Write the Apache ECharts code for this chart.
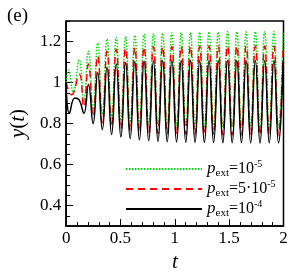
<!DOCTYPE html>
<html><head><meta charset="utf-8">
<script src="https://cdn.jsdelivr.net/npm/echarts@6/dist/echarts.min.js"></script>
<style>html,body{margin:0;padding:0;background:#fff}#c{width:293px;height:278px}</style>
</head><body><div id="c"></div>
<script>
// ---- data ----
const peakT = [0.120,0.205,0.290,0.376,0.461,0.547,0.632,0.717,0.803,0.888,0.973,1.059,1.144,1.229,1.315,1.400,1.485,1.571,1.656,1.741,1.827,1.912,1.997];
const troughT = [0.163,0.248,0.333,0.418,0.504,0.589,0.674,0.760,0.845,0.930,1.016,1.101,1.186,1.272,1.357,1.442,1.528,1.613,1.698,1.784,1.869,1.954];

const greenStartT = [0, 0.022, 0.065];
const greenStartV = [1.0, 1.06, 0.955];
const greenPeaks = [1.110,1.153,1.192,1.212,1.220,1.224,1.230,1.235,1.238,1.240,1.242,1.243,1.244,1.245,1.246,1.246,1.247,1.247,1.247,1.248,1.248,1.248,1.248];
const greenTroughs = [0.910,0.870,0.845,0.828,0.815,0.806,0.800,0.796,0.793,0.791,0.789,0.788,0.787,0.786,0.785,0.785,0.784,0.784,0.784,0.783,0.783,0.783];

const redStartT = [0, 0.05];
const redStartV = [1.0, 0.94];
const redPeaks = [1.040,1.090,1.130,1.152,1.162,1.168,1.171,1.173,1.175,1.176,1.176,1.177,1.177,1.177,1.178,1.178,1.178,1.178,1.178,1.178,1.178,1.178,1.178];
const redTroughs = [0.880,0.835,0.805,0.785,0.772,0.764,0.759,0.755,0.752,0.750,0.749,0.748,0.747,0.746,0.746,0.745,0.745,0.745,0.745,0.745,0.745,0.745];

const blackStartT = [0, 0.03, 0.08];
const blackStartV = [1.0, 0.85, 0.925];
const blackPeaks = [0.915,0.990,1.048,1.075,1.090,1.098,1.102,1.105,1.106,1.107,1.107,1.107,1.107,1.107,1.107,1.107,1.107,1.107,1.107,1.107,1.107,1.107,1.107];
const blackTroughs = [0.850,0.800,0.770,0.747,0.734,0.726,0.720,0.716,0.713,0.711,0.710,0.709,0.708,0.707,0.707,0.706,0.706,0.706,0.705,0.705,0.705,0.705];

const seriesNames = ['g', 'r', 'b'];
const legendExp = ['10', '5\u00b710', '10'];
const legendSup = ['-5', '-5', '-4'];
const xTicks = [0, 0.5, 1, 1.5, 2];
const yTickLabels = [0.4, 0.6, 0.8, 1, 1.2];

function build(st, sv, pk, tr) {
  const pts = st.map((t, i) => [t, sv[i]]);
  pk.forEach((v, i) => pts.push([peakT[i], v]));
  tr.forEach((v, i) => pts.push([troughT[i], v]));
  pts.sort((a, b) => a[0] - b[0]);
  return pts;
}

const SERIF = 'Liberation Serif';
const chart = echarts.init(document.getElementById('c'), null, {renderer: 'canvas'});

const baseSeries = {type: 'line', showSymbol: false, symbol: 'none', smooth: 0.5, animation: false};

chart.setOption({
  animation: false,
  textStyle: {fontFamily: SERIF},
  grid: {left: 60, top: 21, right: 9.5, bottom: 44, show: true, borderColor: '#000', borderWidth: 1.5, backgroundColor: 'transparent'},
  title: {text: '(e)', left: 2, top: 2, textStyle: {fontFamily: SERIF, fontSize: 19, fontWeight: 'normal', color: '#000'}},
  legend: {
    orient: 'vertical', left: 120, top: 154, itemWidth: 76, itemHeight: 12, itemGap: 0,
    data: seriesNames,
    itemStyle: {opacity: 0},
    formatter: function (name) {
      const i = seriesNames.indexOf(name);
      return '{p|p}{s|ext}{n|=' + legendExp[i] + '}{u|' + legendSup[i] + '}';
    },
    textStyle: {
      fontFamily: SERIF, color: '#000', padding: [0, 0, 0, 0],
      rich: {
        p: {fontFamily: SERIF, fontStyle: 'italic', fontSize: 17, lineHeight: 20, color: '#000'},
        s: {fontFamily: SERIF, fontSize: 11, verticalAlign: 'bottom', lineHeight: 20, color: '#000'},
        n: {fontFamily: SERIF, fontSize: 16, lineHeight: 20, color: '#000'},
        u: {fontFamily: SERIF, fontSize: 10, verticalAlign: 'top', lineHeight: 20, color: '#000'}
      }
    }
  },
  xAxis: {
    type: 'value', min: 0, max: 2, interval: 0.5,
    name: 't', nameLocation: 'middle', nameGap: 15,
    nameTextStyle: {fontFamily: SERIF, fontStyle: 'italic', fontSize: 21, color: '#000'},
    axisLine: {show: true, lineStyle: {color: '#000', width: 1.5}},
    axisTick: {show: true, inside: true, length: 7, lineStyle: {color: '#000', width: 1}},
    minorTick: {show: true, splitNumber: 5, length: 4, lineStyle: {color: '#000', width: 1}},
    splitLine: {show: false}, minorSplitLine: {show: false},
    axisLabel: {fontFamily: SERIF, fontSize: 17, color: '#000', margin: 4,
      formatter: v => { const r = Math.round(v * 10) / 10; return xTicks.includes(r) ? String(r) : ''; }}
  },
  yAxis: [{
    type: 'value', min: 0.3, max: 1.3, interval: 0.05, position: 'left',
    name: '{i|y}{n|(}{i|t}{n|)}', nameLocation: 'middle', nameGap: 30, nameRotate: 90,
    nameTextStyle: {rich: {
      i: {fontFamily: SERIF, fontStyle: 'italic', fontSize: 21, color: '#000'},
      n: {fontFamily: SERIF, fontSize: 21, color: '#000'}}},
    axisLine: {show: true, lineStyle: {color: '#000', width: 1.5}},
    axisTick: {show: true, inside: true, length: 4, lineStyle: {color: '#000', width: 1}},
    splitLine: {show: false},
    axisLabel: {fontFamily: SERIF, fontSize: 17, color: '#000', margin: 5,
      formatter: v => { const r = Math.round(v * 100) / 100; return yTickLabels.includes(r) ? String(r) : ''; }}
  }, {
    type: 'value', min: 0.3, max: 1.3, position: 'left',
    axisLine: {show: false},
    axisTick: {show: true, inside: true, length: 7, customValues: yTickLabels, lineStyle: {color: '#000', width: 1}},
    axisLabel: {show: false, customValues: yTickLabels},
    splitLine: {show: false}
  }],
  series: [
    Object.assign({}, baseSeries, {name: 'g', data: build(greenStartT, greenStartV, greenPeaks, greenTroughs),
      itemStyle: {color: '#00dd00'}, lineStyle: {color: '#00dd00', width: 1.5, type: [1.5, 1.5]}}),
    Object.assign({}, baseSeries, {name: 'r', data: build(redStartT, redStartV, redPeaks, redTroughs),
      itemStyle: {color: '#ff0000'}, lineStyle: {color: '#ff0000', width: 1.5, type: [7, 5]}}),
    Object.assign({}, baseSeries, {name: 'b', data: build(blackStartT, blackStartV, blackPeaks, blackTroughs),
      itemStyle: {color: '#000'}, lineStyle: {color: '#000', width: 1.5, type: 'solid'}})
  ]
});
</script>
</body></html>
